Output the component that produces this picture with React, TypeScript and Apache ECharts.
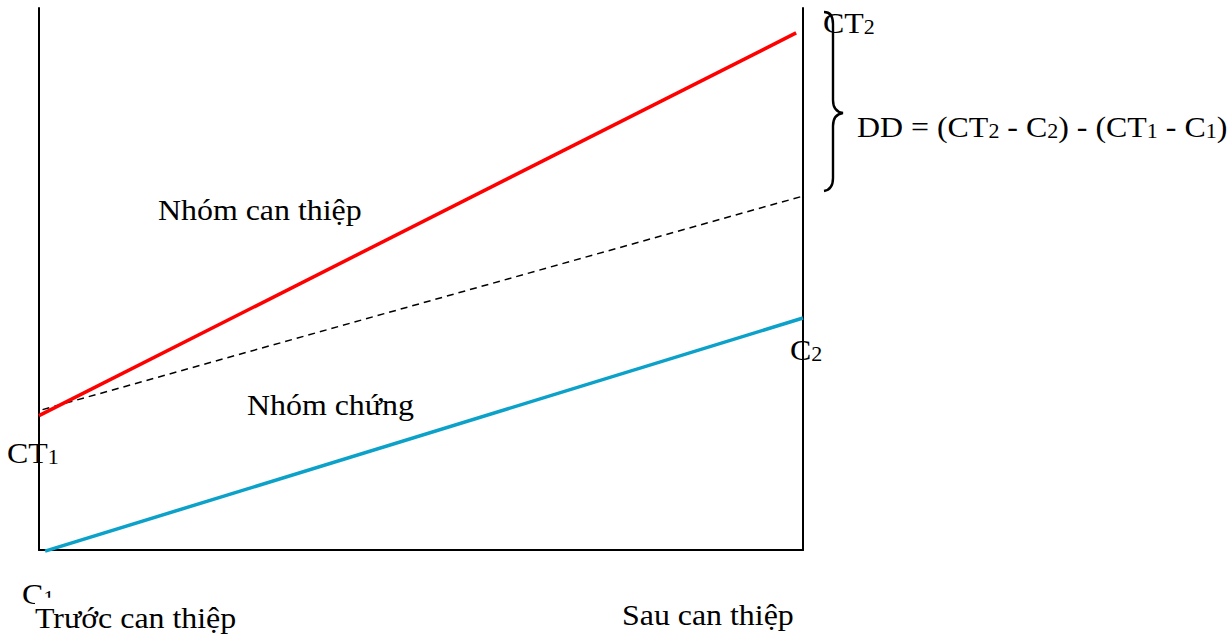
import React, { useEffect, useRef } from "react";
import * as echarts from "echarts";

// Periods on the x axis (0 = before, 100 = after)
const periods = ["Trước can thiệp", "Sau can thiệp"];
const periodX = [0, 100];

// Intervention group (red)
const interventionX = [0, 99.1];
const interventionY = [24.8, 95.4];
// Counterfactual parallel trend (dashed)
const trendX = [-1.05, 100];
const trendY = [25.3, 65.3];
// Control group (blue)
const controlX = [0.8, 100];
const controlY = [-0.2, 42.8];

const groupNames = ["Nhóm can thiệp", "Nhóm chứng"];
const pointNames = ["CT{s|1}", "CT{s|2}", "C{s|1}", "C{s|2}"];
const formula = "DD = (CT{s|2} - C{s|2}) - (CT{s|1} - C{s|1})";

const FONT = "'Liberation Serif', 'Times New Roman', serif";
const FS = 29;
const SX = 1.1;

const BRACE_D =
  "M824,12 C830,12 833,16 833,24 L833,100 C833,108 836,112 843,113 C836,114 833,118 833,126 L833,178 C833,186 830,190 824,191";
echarts.graphic.registerShape("brace", echarts.graphic.extendPath(BRACE_D, {}));

const pairs = (xs: number[], ys: number[]) => xs.map((x, i) => [x, ys[i]]);

function label(text: string, x: number, baseline: number, extra: any = {}, z = 20) {
  return {
    type: "text",
    x,
    y: baseline - 0.3375 * FS,
    scaleX: SX,
    z,
    style: {
      text,
      fill: "#000",
      fontSize: FS,
      fontFamily: FONT,
      lineHeight: FS,
      align: "left",
      verticalAlign: "middle",
      rich: {
        s: { fontSize: 20, fontFamily: FONT, fill: "#000", lineHeight: 17, verticalAlign: "bottom" },
      },
      ...extra,
    },
  };
}

export default function App() {
  const ref = useRef<HTMLDivElement>(null);
  useEffect(() => {
    if (!ref.current) return;
    const chart = echarts.init(ref.current, undefined, { renderer: "svg" });
    const hiddenAxis = {
      axisTick: { show: false },
      axisLabel: { show: false },
      splitLine: { show: false },
    };
    chart.setOption({
      animation: false,
      backgroundColor: "#fff",
      grid: { left: 39, right: 425, top: 8, bottom: 85 },
      xAxis: {
        type: "value",
        min: periodX[0],
        max: periodX[1],
        axisLine: { show: true, onZero: false, lineStyle: { color: "#000", width: 2 } },
        ...hiddenAxis,
      },
      yAxis: [
        {
          type: "value",
          min: 0,
          max: 100,
          position: "left",
          axisLine: { show: true, lineStyle: { color: "#000", width: 2 } },
          ...hiddenAxis,
        },
        {
          type: "value",
          min: 0,
          max: 100,
          position: "right",
          axisLine: { show: true, lineStyle: { color: "#000", width: 2 } },
          ...hiddenAxis,
        },
      ],
      series: [
        {
          name: "trend",
          type: "line",
          data: pairs(trendX, trendY),
          symbol: "none",
          clip: false,
          lineStyle: { color: "#000", width: 1.5, type: [7, 5] },
          z: 3,
        },
        {
          name: groupNames[1],
          type: "line",
          data: pairs(controlX, controlY),
          symbol: "none",
          clip: false,
          lineStyle: { color: "#0BA1C9", width: 3.5 },
          z: 4,
        },
        {
          name: groupNames[0],
          type: "line",
          data: pairs(interventionX, interventionY),
          symbol: "none",
          clip: false,
          lineStyle: { color: "#FF0000", width: 3.5 },
          z: 5,
        },
      ],
      graphic: [
        { type: "brace", x: 0, y: 0, z: 20, style: { stroke: "#000", lineWidth: 2.4, fill: "none" } },
        label(groupNames[0], 158, 220),
        label(groupNames[1], 247, 415),
        label(pointNames[0], 7, 463),
        label(pointNames[1], 823, 33),
        label(pointNames[3], 790, 360),
        label(formula, 857, 137),
        label(pointNames[2], 22, 604, {}, 15),
        label(periods[0], 35, 625, { backgroundColor: "#fff", padding: [6, 0, 0, 0] }, 30),
        label(periods[1], 622, 625, {}, 30),
      ],
    });
    return () => chart.dispose();
  }, []);
  return (
    <div
      ref={ref}
      style={{ position: "absolute", left: 0, top: 0, width: 1228, height: 635 }}
    />
  );
}
